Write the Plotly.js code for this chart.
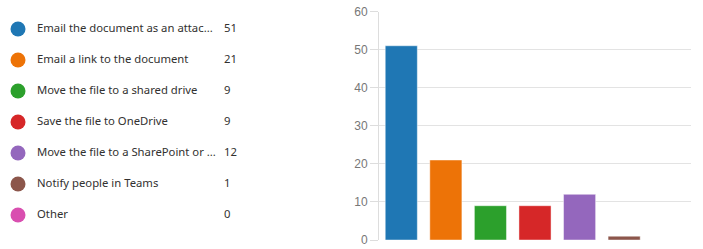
<!DOCTYPE html>
<html>
<head>
<meta charset="utf-8">
<script src="https://cdn.plot.ly/plotly-3.0.1.min.js"></script>
<style>
html,body{margin:0;padding:0;background:#fff;}
#chart{width:703px;height:249px;}
</style>
</head>
<body>
<div id="chart"></div>
<script>
// ---- data ----
const categories = [
  "Email the document as an attac...",
  "Email a link to the document",
  "Move the file to a shared drive",
  "Save the file to OneDrive",
  "Move the file to a SharePoint or ...",
  "Notify people in Teams",
  "Other"
];
const counts = [51, 21, 9, 9, 12, 1, 0];
const colors = ["#1f77b4", "#ed7307", "#2ca02c", "#d62728", "#9467bd", "#8c564b", "#d94fb0"];
const yTicks = [0, 10, 20, 30, 40, 50, 60];

// ---- layout constants ----
const W = 703, H = 249;
const legendFont = "'Segoe UI', 'Noto Sans', sans-serif";

const bar = {
  type: "bar",
  x: categories,
  y: counts,
  xaxis: "x", yaxis: "y",
  marker: {color: colors, line: {color: "rgba(255,255,255,0.45)", width: 1}},
  hoverinfo: "x+y",
  showlegend: false
};

const dots = {
  type: "scatter", mode: "markers",
  x: categories.map(() => 18), y: categories,
  xaxis: "x2", yaxis: "y2",
  marker: {color: colors, size: 15},
  showlegend: false, hoverinfo: "skip"
};
const labels = {
  type: "scatter", mode: "text",
  x: categories.map(() => 37), y: categories,
  text: categories, textposition: "middle right",
  textfont: {family: legendFont, size: 11.3, color: "#323130"},
  xaxis: "x2", yaxis: "y2",
  showlegend: false, hoverinfo: "skip"
};
const values = {
  type: "scatter", mode: "text",
  x: categories.map(() => 224), y: categories,
  text: counts.map(String), textposition: "middle right",
  textfont: {family: legendFont, size: 11.3, color: "#323130"},
  xaxis: "x2", yaxis: "y2",
  showlegend: false, hoverinfo: "skip"
};

const layout = {
  width: W, height: H,
  margin: {l: 0, r: 0, t: 0, b: 0},
  paper_bgcolor: "#fff", plot_bgcolor: "#fff",
  bargap: 0.28,
  xaxis: {
    domain: [379 / W, 691 / W],
    type: "category",
    showticklabels: false, showgrid: false, zeroline: false, showline: false, ticks: ""
  },
  yaxis: {
    domain: [9 / H, 1 - 11.5 / H],
    range: [0, 60],
    tickvals: yTicks,
    ticktext: yTicks.map(String),
    ticks: "outside", ticklen: 8, tickcolor: "#dddddd", tickwidth: 1,
    showline: true, linecolor: "#dddddd", linewidth: 1,
    gridcolor: "#e3e3e3", gridwidth: 1,
    zeroline: false,
    tickfont: {family: "'Liberation Sans', Arial, sans-serif", size: 12, color: "#777777"},
    fixedrange: true
  },
  xaxis2: {
    domain: [0, 379 / W], range: [0, 379], anchor: "y2",
    visible: false, fixedrange: true
  },
  yaxis2: {
    domain: [0, 1], anchor: "x2",
    type: "category",
    range: [(H - 29) / 31, -29 / 31],
    visible: false, fixedrange: true
  }
};

Plotly.newPlot("chart", [bar, dots, labels, values], layout, {displayModeBar: false, staticPlot: true});
</script>
</body>
</html>
